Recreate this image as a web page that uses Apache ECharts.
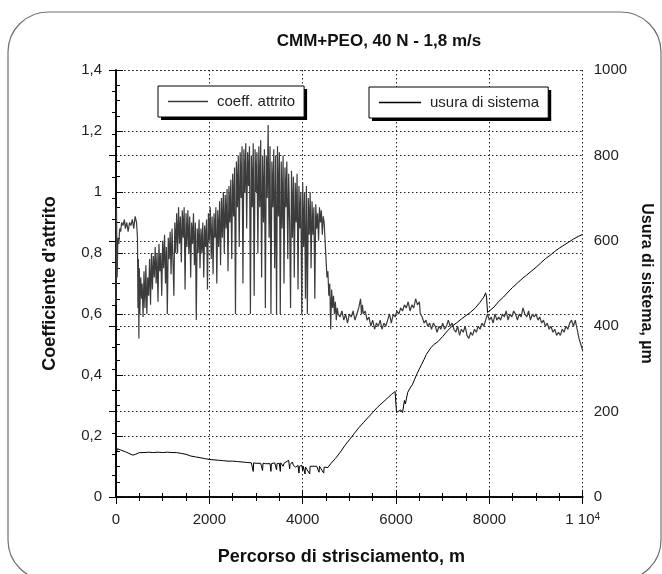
<!DOCTYPE html>
<html>
<head>
<meta charset="utf-8">
<title>CMM+PEO, 40 N - 1,8 m/s</title>
<script src="https://cdn.jsdelivr.net/npm/echarts@6/dist/echarts.min.js"></script>
<style>
  html, body { margin: 0; padding: 0; background: #fff; }
  #chart { width: 662px; height: 574px; }
</style>
</head>
<body>
<div id="chart"></div>
<script>
// Test conditions shown as the chart heading
const titleText = 'CMM+PEO, 40 N - 1,8 m/s';
const seriesNames = ['coeff. attrito', 'usura di sistema'];

// Tick labels (Italian decimal comma)
const xTickLabels = ['0', '2000', '4000', '6000', '8000', '{a|1 10}{s|4}'];
const leftTickLabels = ['0', '0,2', '0,4', '0,6', '0,8', '1', '1,2', '1,4'];
const rightTickLabels = ['0', '200', '400', '600', '800', '1000'];

// Friction coefficient vs sliding distance [m, -]
const attrito = [
  [0,0.63],[10,0.95],[25,0.72],[40,0.85],[60,0.83],[80,0.88],[100,0.87],[120,0.9],[150,0.89],[180,0.91],
  [200,0.88],[230,0.9],[260,0.87],[290,0.9],[320,0.89],[350,0.91],[380,0.88],[410,0.92],[440,0.9],[460,0.85],
  [470,0.62],[480,0.78],[490,0.52],[500,0.75],[510,0.6],[530,0.72],[550,0.65],[560,0.7],[580,0.59],[600,0.74],
  [620,0.62],[640,0.76],[660,0.6],[680,0.72],[700,0.66],[720,0.78],[740,0.63],[760,0.8],[780,0.68],[800,0.79],
  [820,0.72],[840,0.82],[860,0.7],[880,0.8],[900,0.64],[920,0.83],[940,0.74],[960,0.8],[980,0.66],[1000,0.84],
  [1020,0.75],[1040,0.86],[1060,0.7],[1080,0.82],[1100,0.6],[1120,0.85],[1140,0.78],[1160,0.87],[1180,0.73],[1200,0.88],
  [1220,0.78],[1240,0.66],[1260,0.9],[1280,0.8],[1300,0.93],[1320,0.8],[1340,0.95],[1360,0.83],[1380,0.92],[1400,0.77],
  [1420,0.94],[1440,0.85],[1460,0.95],[1480,0.68],[1500,0.93],[1520,0.82],[1540,0.94],[1560,0.8],[1580,0.92],[1600,0.72],
  [1620,0.9],[1640,0.83],[1660,0.93],[1680,0.76],[1700,0.9],[1720,0.58],[1740,0.88],[1760,0.8],[1780,0.91],[1800,0.75],
  [1820,0.88],[1840,0.8],[1860,0.9],[1880,0.72],[1900,0.89],[1920,0.82],[1940,0.91],[1960,0.68],[1980,0.93],[2000,0.84],
  [2020,0.95],[2040,0.78],[2060,0.92],[2080,0.73],[2100,0.93],[2120,0.85],[2140,0.95],[2160,0.7],[2180,0.94],[2200,0.82],
  [2220,0.97],[2240,0.76],[2260,0.98],[2280,0.85],[2300,1.0],[2320,0.8],[2340,0.99],[2360,0.88],[2380,1.01],[2400,0.74],
  [2420,1.02],[2440,0.9],[2460,1.04],[2480,0.78],[2500,1.06],[2520,0.92],[2540,1.08],[2560,0.6],[2580,1.1],[2600,0.95],
  [2620,1.12],[2640,0.82],[2660,1.13],[2680,0.98],[2700,1.15],[2720,0.7],[2740,1.14],[2760,1.0],[2780,1.16],[2800,0.88],
  [2820,1.13],[2840,1.02],[2860,1.15],[2880,0.6],[2900,1.12],[2920,0.95],[2940,1.16],[2960,0.66],[2980,1.14],[3000,1.0],
  [3020,1.13],[3040,0.8],[3060,1.15],[3080,0.95],[3100,1.17],[3120,0.72],[3140,1.12],[3160,0.9],[3180,1.14],[3200,0.62],
  [3220,1.12],[3240,0.98],[3260,1.22],[3280,0.85],[3300,1.15],[3320,0.6],[3340,1.1],[3360,0.95],[3380,1.14],[3400,0.75],
  [3420,1.12],[3440,0.6],[3460,1.15],[3480,0.92],[3500,1.13],[3520,0.6],[3540,1.1],[3560,0.88],[3580,1.12],[3600,0.7],
  [3620,1.08],[3640,0.95],[3660,1.1],[3680,0.78],[3700,1.06],[3720,0.9],[3740,0.62],[3760,1.07],[3780,0.85],[3800,1.05],
  [3820,0.72],[3840,1.03],[3860,0.9],[3880,1.06],[3900,0.68],[3920,1.02],[3940,0.88],[3960,1.0],[3980,0.6],[4000,1.03],
  [4020,0.82],[4040,1.0],[4060,0.65],[4080,1.02],[4100,0.6],[4120,0.98],[4140,0.86],[4160,1.0],[4180,0.75],[4200,0.97],
  [4220,0.86],[4240,0.95],[4260,0.65],[4280,0.96],[4300,0.88],[4320,0.93],[4340,0.84],[4360,0.95],[4380,0.9],[4400,0.94],
  [4420,0.86],[4440,0.92],[4460,0.9],[4480,0.84],[4500,0.78],[4520,0.72],[4540,0.74],[4560,0.66],[4580,0.7],[4600,0.55],
  [4620,0.68],[4640,0.62],[4660,0.66],[4680,0.6],[4700,0.64],[4720,0.58],[4740,0.62],[4760,0.6],[4800,0.59],[4840,0.61],
  [4880,0.58],[4920,0.6],[4960,0.57],[5000,0.6],[5040,0.59],[5080,0.61],[5120,0.58],[5160,0.6],[5200,0.62],[5240,0.65],
  [5260,0.6],[5280,0.63],[5300,0.6],[5340,0.61],[5380,0.58],[5420,0.59],[5460,0.56],[5500,0.58],[5540,0.55],[5580,0.57],
  [5620,0.56],[5660,0.58],[5700,0.55],[5740,0.57],[5780,0.56],[5820,0.58],[5860,0.6],[5900,0.57],[5940,0.6],[5980,0.59],
  [6020,0.61],[6060,0.6],[6100,0.62],[6140,0.61],[6180,0.63],[6220,0.62],[6260,0.64],[6300,0.61],[6340,0.63],[6380,0.62],
  [6420,0.65],[6460,0.63],[6500,0.64],[6520,0.6],[6560,0.59],[6600,0.57],[6640,0.58],[6680,0.56],[6720,0.57],[6760,0.55],
  [6800,0.57],[6840,0.56],[6880,0.54],[6920,0.56],[6960,0.55],[7000,0.57],[7040,0.55],[7080,0.56],[7120,0.58],[7160,0.56],
  [7200,0.57],[7240,0.55],[7280,0.54],[7320,0.56],[7360,0.53],[7400,0.55],[7440,0.54],[7480,0.56],[7520,0.53],[7560,0.52],
  [7600,0.54],[7640,0.53],[7680,0.55],[7720,0.54],[7760,0.56],[7800,0.55],[7840,0.57],[7880,0.56],[7920,0.58],[7960,0.6],
  [8000,0.58],[8040,0.59],[8080,0.57],[8120,0.6],[8160,0.58],[8200,0.59],[8240,0.58],[8280,0.6],[8320,0.59],[8360,0.61],
  [8400,0.58],[8440,0.6],[8480,0.59],[8520,0.61],[8560,0.6],[8600,0.58],[8640,0.6],[8680,0.59],[8720,0.62],[8760,0.6],
  [8800,0.59],[8840,0.61],[8880,0.58],[8920,0.6],[8960,0.59],[9000,0.6],[9040,0.58],[9080,0.59],[9120,0.57],[9160,0.58],
  [9200,0.56],[9240,0.57],[9280,0.55],[9320,0.56],[9360,0.54],[9400,0.55],[9440,0.53],[9480,0.54],[9520,0.53],[9560,0.55],
  [9600,0.54],[9640,0.56],[9680,0.55],[9720,0.57],[9760,0.58],[9800,0.56],[9840,0.58],[9880,0.55],[9920,0.52],[9960,0.5],
  [10000,0.48]
];

// System wear vs sliding distance [m, µm]
const usura = [
  [0,0],[5,100],[30,113],[100,110],[200,106],[300,101],[360,98],[420,100],[500,104],[600,104],
  [700,105],[800,104],[900,105],[1000,104],[1100,105],[1200,104],[1300,104],[1400,102],[1500,100],[1600,96],
  [1700,94],[1800,92],[1900,90],[2000,88],[2100,87],[2200,86],[2300,85],[2400,84],[2500,84],[2600,83],
  [2700,82],[2800,81],[2900,80],[2940,60],[2950,80],[3000,79],[3100,79],[3140,62],[3150,79],[3200,78],
  [3300,78],[3320,60],[3330,78],[3400,80],[3440,64],[3450,78],[3500,79],[3520,60],[3530,80],[3580,72],
  [3600,79],[3700,86],[3720,66],[3730,76],[3780,82],[3800,74],[3850,70],[3900,74],[3920,56],[3930,72],
  [3980,74],[4000,62],[4010,72],[4050,54],[4060,70],[4100,72],[4150,54],[4160,72],[4200,73],[4300,72],
  [4350,58],[4360,72],[4400,71],[4450,56],[4460,70],[4500,72],[4540,69],[4600,78],[4700,90],[4800,104],
  [4900,120],[5000,134],[5100,148],[5200,162],[5300,174],[5400,186],[5500,198],[5600,210],[5700,220],[5800,230],
  [5900,240],[5980,247],[6000,244],[6010,198],[6050,196],[6100,204],[6140,198],[6180,226],[6200,218],[6250,245],
  [6300,255],[6350,263],[6400,276],[6450,289],[6500,300],[6550,311],[6600,322],[6650,334],[6700,342],[6750,350],
  [6800,356],[6900,364],[7000,376],[7100,389],[7200,400],[7300,408],[7400,417],[7500,425],[7600,433],[7700,443],
  [7800,456],[7880,468],[7920,478],[7940,468],[7960,432],[8000,436],[8100,445],[8200,458],[8300,468],[8400,480],
  [8500,491],[8600,501],[8700,511],[8800,520],[8900,529],[9000,538],[9100,548],[9200,558],[9300,566],[9400,575],
  [9500,583],[9600,590],[9700,597],[9800,604],[9900,610],[10000,615]
];

const FONT = '"Liberation Sans", Arial, sans-serif';
const GRID_DOT = { color: '#222', width: 1, type: [1.5, 2.5] };

// Legend box geometry: the drop shadow under each box follows its measured text width
const LEG_FONT_SIZE = 15;
const LEG_PAD = [8, 9, 8, 10];
const LEG_TEXT_GAP = 5 + 4;
const legendSpecs = [
  { name: seriesNames[0], left: 158, top: 86, itemWidth: 40 },
  { name: seriesNames[1], left: 369, top: 87, itemWidth: 42 }
];
const measureCtx = document.createElement('canvas').getContext('2d');
measureCtx.font = LEG_FONT_SIZE + 'px ' + FONT;
const shadowRects = legendSpecs.map(s => {
  const tw = measureCtx.measureText(s.name).width;
  const w = LEG_PAD[3] + s.itemWidth + LEG_TEXT_GAP + tw + LEG_PAD[1];
  const h = LEG_PAD[0] + LEG_FONT_SIZE + LEG_PAD[2];
  return {
    type: 'rect',
    z: 3,
    shape: { x: s.left + 3, y: s.top + 3, width: w, height: h },
    style: { fill: '#000' },
    silent: true
  };
});

const chart = echarts.init(document.getElementById('chart'), null, { renderer: 'canvas' });

const legends = legendSpecs.map(s => ({
  data: [s.name],
  left: s.left,
  top: s.top,
  orient: 'horizontal',
  icon: 'rect',
  itemWidth: s.itemWidth,
  itemHeight: 1.3,
  padding: LEG_PAD,
  backgroundColor: '#fff',
  borderColor: '#000',
  borderWidth: 1,
  borderRadius: 0,
  selectedMode: false,
  z: 5,
  textStyle: { fontFamily: FONT, fontSize: LEG_FONT_SIZE, color: '#222', padding: [0, 0, 0, 4] }
}));

const option = {
  animation: false,
  backgroundColor: '#fff',
  textStyle: { fontFamily: FONT },
  graphic: [{
    type: 'rect',
    z: -10,
    shape: { x: 8, y: 12, width: 653, height: 568, r: 40 },
    style: { fill: 'none', stroke: '#707070', lineWidth: 1.2 }
  }].concat(shadowRects),
  title: {
    text: titleText,
    left: 379,
    top: 33,
    padding: 0,
    textAlign: 'center',
    textStyle: { fontFamily: FONT, fontSize: 17, fontWeight: 'bold', color: '#111' }
  },
  legend: legends,
  grid: { left: 116, right: 75, top: 70, bottom: 77, show: false },
  xAxis: [{
    type: 'value',
    position: 'bottom',
    min: 0, max: 10000, interval: 2000,
    name: 'Percorso di strisciamento, m',
    nameLocation: 'middle',
    nameGap: 51,
    nameTextStyle: { fontFamily: FONT, fontSize: 18, fontWeight: 'bold', color: '#111', padding: [0, 16, 0, 0] },
    axisLine: { show: true, lineStyle: { color: '#000', width: 1.5 } },
    axisTick: { show: true, inside: true, length: 7, lineStyle: { color: '#000', width: 1 } },
    minorTick: { show: true, splitNumber: 4, length: 4, lineStyle: { color: '#000', width: 1 } },
    splitLine: { show: true, lineStyle: GRID_DOT },
    axisLabel: {
      margin: 15,
      fontFamily: FONT, fontSize: 15, color: '#222',
      formatter: v => xTickLabels[Math.round(v / 2000)],
      rich: {
        a: { fontFamily: FONT, fontSize: 15, color: '#222', verticalAlign: 'top' },
        s: { fontFamily: FONT, fontSize: 10, color: '#222', verticalAlign: 'top', lineHeight: 10 }
      }
    }
  }, {
    type: 'value',
    position: 'top',
    min: 0, max: 10000, interval: 2000,
    axisLine: { show: true, lineStyle: { color: '#000', width: 1.5 } },
    axisTick: { show: true, inside: true, length: 7, lineStyle: { color: '#000', width: 1 } },
    minorTick: { show: true, splitNumber: 4, length: 4, lineStyle: { color: '#000', width: 1 } },
    splitLine: { show: false },
    axisLabel: { show: false }
  }],
  yAxis: [{
    type: 'value',
    position: 'left',
    min: 0, max: 1.4, interval: 0.2,
    name: "Coefficiente d'attrito",
    nameLocation: 'middle',
    nameRotate: 90,
    nameGap: 57,
    nameTextStyle: { fontFamily: FONT, fontSize: 18, fontWeight: 'bold', color: '#111' },
    axisLine: { show: true, lineStyle: { color: '#000', width: 1.5 } },
    axisTick: { show: true, inside: true, length: 7, lineStyle: { color: '#000', width: 1 } },
    minorTick: { show: true, splitNumber: 4, length: 4, lineStyle: { color: '#000', width: 1 } },
    splitLine: { show: true, lineStyle: GRID_DOT },
    axisLabel: {
      margin: 14, fontFamily: FONT, fontSize: 15, color: '#222',
      formatter: v => leftTickLabels[Math.round(v / 0.2)]
    }
  }, {
    type: 'value',
    position: 'right',
    min: 0, max: 1000, interval: 200,
    name: 'Usura di sistema, µm',
    nameLocation: 'middle',
    nameRotate: -90,
    nameGap: 47,
    nameTextStyle: { fontFamily: FONT, fontSize: 16, fontWeight: 'bold', color: '#111' },
    axisLine: { show: true, lineStyle: { color: '#000', width: 1.5 } },
    axisTick: { show: true, inside: true, length: 7, lineStyle: { color: '#000', width: 1 } },
    minorTick: { show: true, splitNumber: 4, length: 4, lineStyle: { color: '#000', width: 1 } },
    splitLine: { show: true, lineStyle: GRID_DOT },
    axisLabel: {
      margin: 11, fontFamily: FONT, fontSize: 15, color: '#222',
      formatter: v => rightTickLabels[Math.round(v / 200)]
    }
  }],
  series: [{
    name: seriesNames[0],
    type: 'line',
    xAxisIndex: 0,
    yAxisIndex: 0,
    data: attrito,
    showSymbol: false,
    symbol: 'none',
    color: '#3c3c3c',
    lineStyle: { width: 1.2, color: '#3c3c3c' },
    z: 2
  }, {
    name: seriesNames[1],
    type: 'line',
    xAxisIndex: 0,
    yAxisIndex: 1,
    data: usura,
    showSymbol: false,
    symbol: 'none',
    color: '#000',
    lineStyle: { width: 1, color: '#000' },
    z: 3
  }]
};

chart.setOption(option);
</script>
</body>
</html>
